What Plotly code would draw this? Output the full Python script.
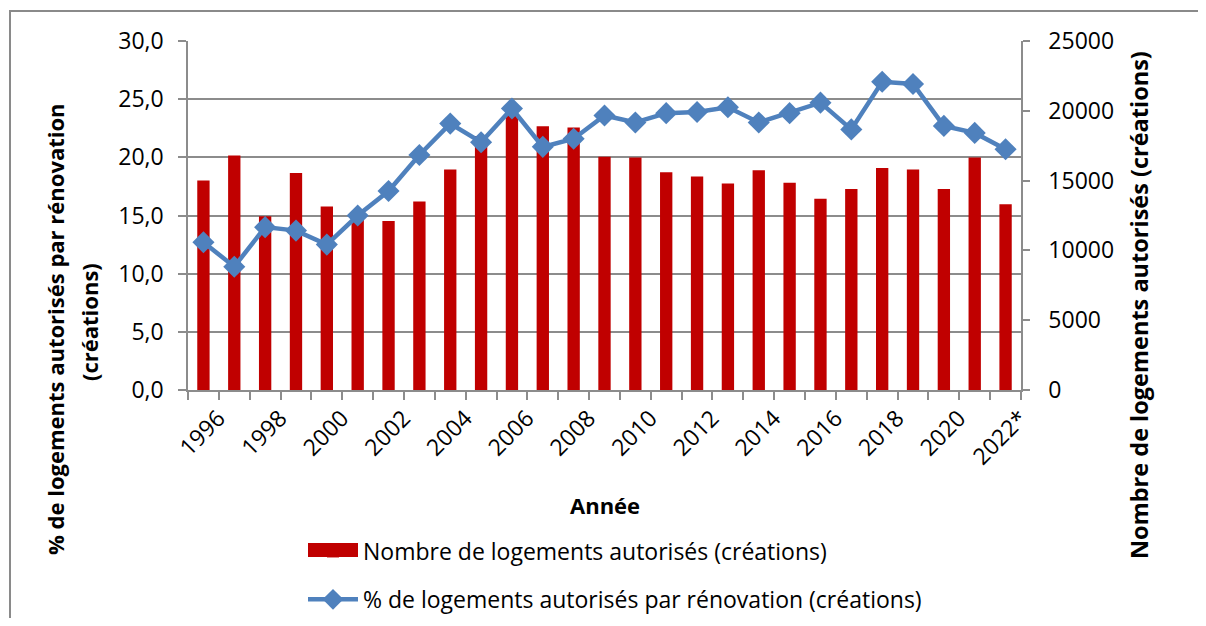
import plotly.graph_objects as go

years = list(range(1996, 2023))
nombre_logements = [15000, 16800, 12450, 15550, 13150, 12400, 12100, 13500, 15800, 18200,
                    19900, 18900, 18800, 16700, 16650, 15600, 15300, 14800, 15750, 14850,
                    13700, 14400, 15900, 15800, 14400, 16650, 13300]
pct_renovation = [12.7, 10.6, 14.0, 13.7, 12.5, 15.0, 17.1, 20.2, 22.9, 21.3,
                  24.2, 20.9, 21.6, 23.6, 23.0, 23.8, 23.9, 24.3, 23.0, 23.8,
                  24.7, 22.4, 26.5, 26.3, 22.7, 22.1, 20.7]
tick_years = [1996, 1998, 2000, 2002, 2004, 2006, 2008, 2010, 2012, 2014, 2016, 2018, 2020, 2022]
tick_labels = ["1996", "1998", "2000", "2002", "2004", "2006", "2008", "2010", "2012",
               "2014", "2016", "2018", "2020", "2022*"]

name_bar = "Nombre de logements autorisés (créations)"
name_line = "% de logements autorisés par rénovation (créations)"

# page body has an 8px margin: figure is drawn offset by (8, 8) on screen
OFF = 8
W, H = 1206 - OFF, 626 - 2 * OFF
# plot area in screen pixels
L, R, T, B = 188, 1021, 41, 390


def xp(px):
    return (px - L) / (R - L)


def yp(py):
    return (B - py) / (B - T)


FONT = "Open Sans"
FS = 23
GRID = "#8c8c8c"
AXIS = "#8c8c8c"
RED = "#C00000"

fig = go.Figure()
fig.add_trace(go.Bar(
    x=years, y=nombre_logements, name=name_bar, yaxis="y",
    marker=dict(color=RED, line=dict(width=0)), width=0.4,
    legendgroup="a",
))
fig.add_trace(go.Scatter(
    x=years, y=pct_renovation, name=name_line, yaxis="y2", mode="lines+markers",
    line=dict(color="#4F81BD", width=4.5),
    marker=dict(symbol="diamond", size=17, color="#4F81BD"),
    legendgroup="b",
))

boundaries = [y - 0.5 for y in years] + [years[-1] + 0.5]

fig.update_layout(
    width=W, height=H,
    margin=dict(l=L - OFF, r=W - (R - OFF), t=T - OFF, b=H - (B - OFF), pad=0,
                autoexpand=False),
    paper_bgcolor="white", plot_bgcolor="white",
    separators=", ",
    font=dict(family=FONT, size=FS, color="black"),
    bargap=0.6,
    showlegend=True,
    legend=dict(
        x=xp(303), y=yp(530), xanchor="left", yanchor="top",
        font=dict(family=FONT, size=FS, color="black"),
        itemwidth=50, tracegroupgap=15, bgcolor="rgba(0,0,0,0)",
    ),
    xaxis=dict(
        range=[years[0] - 0.5, years[-1] + 0.5], automargin=False,
        tickmode="array", tickvals=[y + 0.49 for y in tick_years], ticktext=tick_labels,
        tickangle=-45, ticks="", tickfont=dict(family=FONT, size=FS, color="black"),
        showline=True, linecolor=AXIS, linewidth=1.5, showgrid=False, zeroline=False,
        minor=dict(tickmode="array", tickvals=boundaries, ticks="outside", ticklen=8,
                   tickcolor=AXIS, tickwidth=1.5, showgrid=False),
        ticklabelstandoff=4,
    ),
    yaxis=dict(
        side="right", range=[0, 25000], tickmode="linear", tick0=0, dtick=5000,
        automargin=False,
        tickformat="d", ticks="outside", ticklen=7, tickcolor=AXIS, tickwidth=1.5,
        showline=True, linecolor=AXIS, linewidth=1.5, showgrid=False, zeroline=False,
        tickfont=dict(family=FONT, size=FS, color="black"), ticklabelstandoff=14,
    ),
    yaxis2=dict(
        side="left", overlaying="y", range=[0, 30], tickmode="linear", tick0=0, dtick=5,
        automargin=False,
        tickformat=".1f", ticks="outside", ticklen=8, tickcolor=AXIS, tickwidth=1.5,
        showline=True, linecolor=AXIS, linewidth=1.5, showgrid=True, gridcolor=GRID,
        gridwidth=1.5, zeroline=False,
        tickfont=dict(family=FONT, size=FS, color="black"), ticklabelstandoff=10,
    ),
)

annots = [
    dict(text="<b>% de logements autorisés par rénovation</b>", x=xp(55), y=yp(329),
         textangle=-90, size=22),
    dict(text="<b>(créations)</b>", x=xp(89), y=yp(322), textangle=-90, size=22),
    dict(text="<b>Nombre de logements autorisés (créations)</b>", x=xp(1139), y=yp(305),
         textangle=-90, size=23.5),
    dict(text="<b>Année</b>", x=xp(605), y=yp(505), size=22),
]
for a in annots:
    size = a.pop("size")
    a.update(xref="paper", yref="paper", xanchor="center", yanchor="middle",
             showarrow=False, font=dict(family=FONT, size=size, color="black"))
    fig.add_annotation(**a)

# outer chart frame
fig.add_shape(type="rect", xref="paper", yref="paper",
              x0=xp(10), x1=xp(1230), y0=yp(660), y1=yp(11),
              line=dict(color="#8a8a8a", width=2), fillcolor="rgba(0,0,0,0)", layer="below")
# wide legend key for the bar series
fig.add_shape(type="rect", xref="paper", yref="paper",
              x0=xp(308), x1=xp(358), y0=yp(557), y1=yp(543),
              line=dict(width=0), fillcolor=RED, layer="above")

fig.write_html("out.html")
